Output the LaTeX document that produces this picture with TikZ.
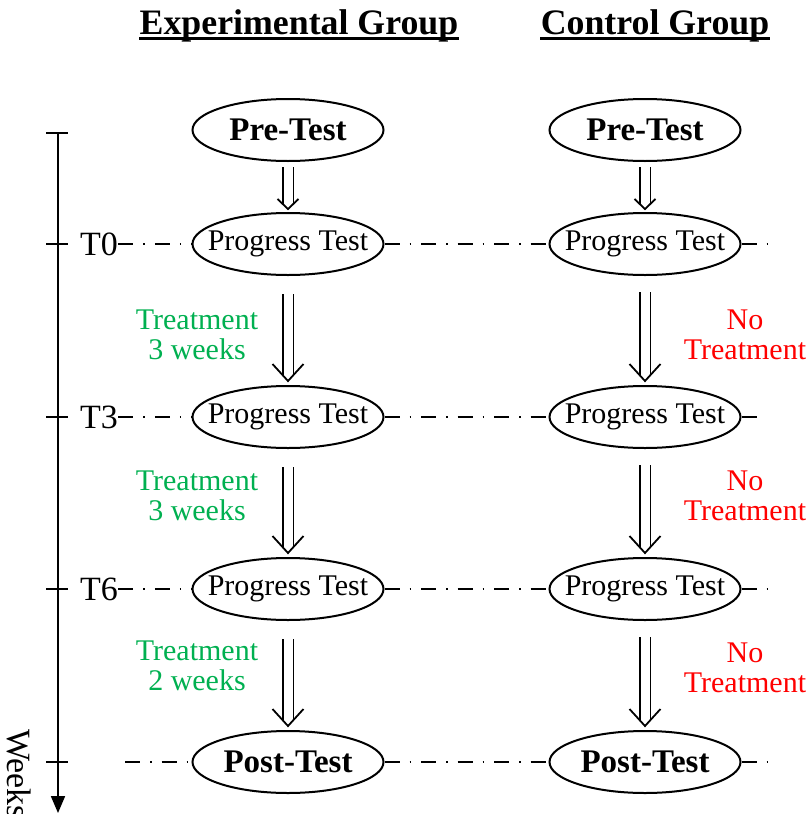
\documentclass[tikz,border=0pt]{standalone}
\usepackage{fontspec}
\setmainfont{Liberation Serif}
\usetikzlibrary{arrows.meta, shapes.geometric, positioning}
\definecolor{treatgreen}{RGB}{0,176,80}
\tikzset{
  test/.style={draw, ellipse, line width=1pt, fill=white, minimum width=95.5pt,
    minimum height=31pt, inner xsep=-6.5pt, inner ysep=0pt, font=\fontsize{15}{15}\selectfont},
  boldtest/.style={test, font=\fontsize{16.5}{16.5}\selectfont\bfseries},
  flow/.style={double, double distance=4.5pt, line width=0.9pt},
  barb/.style={line width=0.9pt, line join=miter},
  timeline/.style={dash pattern=on 7.5pt off 5pt on 0.75pt off 5pt, line width=0.9pt},
  note/.style={align=center, font=\fontsize{15}{15}\selectfont},
  tlabel/.style={inner sep=0pt, font=\fontsize{17}{17}\selectfont},
  heading/.style={inner sep=0pt, anchor=base, font=\fontsize{17.9}{17.9}\selectfont\bfseries}
}

\begin{document}
\begin{tikzpicture}[x=0.5pt, y=-0.5pt]
    \useasboundingbox (0,0) rectangle (809,814);
    % headings
    \node[heading] (hE) at (299,34) {Experimental Group};
    \node[heading] (hC) at (655,34) {Control Group};
    \draw[line width=1.5pt] ([yshift=-2pt]hE.base west) -- ([yshift=-2pt]hE.base east);
    \draw[line width=1.5pt] ([yshift=-2pt]hC.base west) -- ([yshift=-2pt]hC.base east);

    % time axis
    \coordinate (axtop) at (58,133);
    \coordinate (axend) at (58,813);
    \draw[line width=0.9pt, -{Triangle[length=8.5pt,width=7pt]}] (axtop) -- (axend);
    \foreach \y in {133,244,417,589,762}
        \draw[line width=0.9pt] (46,\y) -- (68,\y);
    \node[tlabel, rotate=-90, anchor=west] (weeks) at (19,729) {Weeks};
    \node[tlabel] (t0) at (99,244) {T0};
    \node[tlabel] (t3) at (99,417) {T3};
    \node[tlabel] (t6) at (99,589) {T6};
    \coordinate (tpost) at (125,762);

    % tests
    \node[boldtest] (preE) at (288,130) {Pre-Test};
    \node[boldtest] (preC) at (645,130) {Pre-Test};
    \node[test] (e0) at (288,244) {Progress Test};
    \node[test] (c0) at (645,244) {Progress Test};
    \node[test] (e3) at (288,417) {Progress Test};
    \node[test] (c3) at (645,417) {Progress Test};
    \node[test] (e6) at (288,589) {Progress Test};
    \node[test] (c6) at (645,589) {Progress Test};
    \node[boldtest] (postE) at (288,762) {Post-Test};
    \node[boldtest] (postC) at (645,762) {Post-Test};

    \coordinate (r0) at (767,244);
    \coordinate (r3) at (757,417);
    \coordinate (r6) at (767,589);
    \coordinate (rpost) at (767,762);

    % time lines
    \draw[timeline] (t0) -- (e0) -- (c0) -- (r0);
    \draw[timeline] (t3) -- (e3) -- (c3) -- (r3);
    \draw[timeline] (t6) -- (e6) -- (c6) -- (r6);
    \draw[timeline] (tpost) -- (postE) -- (postC) -- (rpost);

    % arrows: source/target/start gap/end gap/tip gap/half width/head length
    \foreach \a/\b/\s/\e/\t/\w/\l in {preE/e0/2.5/4/3/10.5/10, preC/c0/2.5/4/3/10.5/10,
        e0/e3/9/5/4/15.5/17, c0/c3/8/5/4/15.5/17, e3/e6/9/5/4/15.5/17,
        c3/c6/8/5/4/15.5/17, e6/postE/9/5/4/15.5/17, c6/postC/8/5/4/15.5/17} {
        \draw[flow, shorten <=\s pt, shorten >=\e pt] (\a) -- (\b);
        \draw[barb] ([shift={(-\w,-\t-\l)}]\b.north) -- ([shift={(0,-\t)}]\b.north)
            -- ([shift={(\w,-\t-\l)}]\b.north);
    }

    % treatment notes
    \node[note, text=treatgreen] (n1) at (197,335) {Treatment\\3 weeks};
    \node[note, text=treatgreen] (n2) at (197,496) {Treatment\\3 weeks};
    \node[note, text=treatgreen] (n3) at (197,666) {Treatment\\2 weeks};
    \node[note, text=red] (m1) at (745,335) {No\\Treatment};
    \node[note, text=red] (m2) at (745,496) {No\\Treatment};
    \node[note, text=red] (m3) at (745,668) {No\\Treatment};
\end{tikzpicture}
\end{document}
